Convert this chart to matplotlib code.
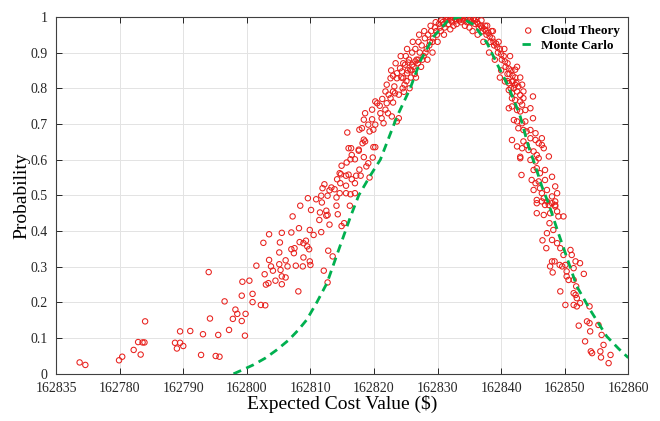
import numpy as np
import matplotlib
matplotlib.use('Agg')
import matplotlib.pyplot as plt

plt.rcParams['font.family'] = ['Liberation Serif', 'DejaVu Serif']

# Cloud Theory scatter (expected cost, probability)
left_x = [162773.7, 162774.6, 162779.9, 162780.4, 162782.2, 162782.9, 162783.6, 162783.9,
          162783.3, 162784.0, 162788.7, 162789.5, 162789.0, 162790.0, 162789.5, 162791.1,
          162793.1, 162792.8, 162794.0, 162794.2, 162795.1, 162795.7, 162795.5, 162796.5,
          162797.2, 162797.8, 162798.2, 162798.5, 162799.2, 162799.7, 162799.8, 162799.2,
          162799.3, 162800.4, 162800.9, 162800.9, 162801.5]
left_y = [0.032, 0.025, 0.038, 0.048, 0.067, 0.089, 0.088, 0.088,
          0.054, 0.147, 0.087, 0.087, 0.071, 0.078, 0.119, 0.120,
          0.111, 0.053, 0.285, 0.155, 0.050, 0.048, 0.109, 0.203,
          0.123, 0.154, 0.180, 0.168, 0.148, 0.107, 0.168, 0.219,
          0.258, 0.261, 0.224, 0.201, 0.303]

mid_x = [162802.2, 162802.9, 162802.8, 162803.0, 162803.4, 162802.6, 162803.5, 162803.5,
         162803.8, 162804.1, 162804.5, 162805.1, 162805.2, 162805.5, 162805.1, 162805.3,
         162805.5, 162805.5, 162806.1, 162806.1, 162806.4, 162807.0, 162807.0, 162807.2,
         162807.5, 162807.7, 162807.4, 162808.1, 162808.2, 162808.4, 162808.3, 162808.9,
         162808.9, 162808.8, 162809.3, 162809.5, 162809.6, 162809.8, 162809.9, 162810.0,
         162809.9, 162810.1, 162810.5, 162810.9, 162811.5, 162811.4, 162811.7, 162811.8,
         162811.7, 162811.9, 162812.2, 162812.5, 162812.5, 162812.7, 162813.0, 162812.1,
         162812.8, 162813.5, 162812.7, 162813.0, 162813.3, 162813.8, 162812.7, 162814.1,
         162814.1, 162814.3, 162814.2, 162814.6, 162814.7, 162814.8, 162814.9, 162815.3,
         162815.6, 162815.6, 162814.6, 162814.9, 162815.6, 162816.0, 162816.2, 162816.3,
         162817.0, 162817.0, 162817.2, 162816.5, 162815.7, 162816.3, 162817.0, 162816.5,
         162817.6, 162817.7, 162817.9, 162818.4, 162818.8, 162819.1, 162819.3, 162819.8]
mid_y = [0.193, 0.192, 0.279, 0.250, 0.254, 0.367, 0.391, 0.319,
         0.301, 0.289, 0.261, 0.340, 0.368, 0.395, 0.307, 0.291,
         0.273, 0.251, 0.270, 0.318, 0.301, 0.396, 0.349, 0.441,
         0.352, 0.303, 0.338, 0.231, 0.408, 0.471, 0.369, 0.366,
         0.326, 0.301, 0.373, 0.357, 0.492, 0.349, 0.315, 0.305,
         0.403, 0.459, 0.389, 0.489, 0.452, 0.431, 0.397, 0.480,
         0.499, 0.520, 0.531, 0.457, 0.443, 0.445, 0.418, 0.289,
         0.345, 0.329, 0.256, 0.514, 0.522, 0.517, 0.499, 0.494,
         0.471, 0.447, 0.545, 0.506, 0.534, 0.559, 0.414, 0.422,
         0.527, 0.506, 0.562, 0.583, 0.555, 0.558, 0.471, 0.503,
         0.506, 0.534, 0.555, 0.545, 0.592, 0.601, 0.601, 0.613,
         0.625, 0.572, 0.555, 0.607, 0.581, 0.590, 0.550, 0.606]

upper_x = [162816.0, 162816.4, 162815.8, 162817.6, 162818.4, 162818.6, 162818.2, 162819.9,
           162820.2, 162817.7, 162818.1, 162818.6, 162818.4, 162819.1, 162819.3, 162819.7,
           162819.9, 162820.2, 162819.7, 162820.2, 162820.5, 162820.9, 162821.0, 162821.2,
           162821.5, 162821.8, 162822.0, 162822.6, 162822.3, 162821.8, 162823.0, 162823.2,
           162822.6, 162823.0, 162823.6, 162823.6, 162824.1, 162824.4, 162823.6, 162823.9,
           162822.8, 162823.3, 162823.9, 162824.9, 162825.4, 162826.0, 162826.5, 162827.0,
           162825.2, 162825.7, 162824.6]
upper_y = [0.632, 0.632, 0.676, 0.628, 0.656, 0.651, 0.646, 0.635,
           0.635, 0.684, 0.688, 0.730, 0.712, 0.698, 0.679, 0.713,
           0.684, 0.698, 0.740, 0.763, 0.758, 0.751, 0.730, 0.716,
           0.702, 0.740, 0.758, 0.772, 0.782, 0.791, 0.791, 0.805,
           0.828, 0.835, 0.828, 0.842, 0.856, 0.847, 0.707, 0.716,
           0.721, 0.786, 0.782, 0.866, 0.872, 0.866, 0.875, 0.880,
           0.842, 0.852, 0.828]

peak_x = [162824.3, 162824.6, 162824.8, 162825.0, 162825.3, 162825.5, 162825.8, 162826.0,
          162826.2, 162826.5, 162826.7, 162827.0, 162827.2, 162827.5, 162827.8, 162828.0,
          162828.3, 162828.5, 162828.8, 162829.0, 162829.3, 162829.6, 162829.9, 162830.2,
          162830.5, 162830.8, 162831.1, 162831.4, 162831.7, 162832.0, 162832.3, 162832.6,
          162832.9, 162833.2, 162833.5, 162833.8, 162834.1, 162834.4, 162834.7, 162835.0,
          162835.3, 162835.6, 162835.9, 162836.2, 162836.5, 162836.8, 162837.1, 162837.4,
          162837.7, 162838.0, 162838.3, 162838.6, 162838.9, 162839.2, 162839.5, 162839.8,
          162840.1, 162840.4, 162840.7, 162841.0, 162841.3, 162841.6, 162841.9, 162842.2,
          162824.5, 162825.1, 162825.9, 162826.4, 162826.9, 162827.6, 162828.1, 162828.7,
          162829.2, 162829.8, 162830.4, 162831.0, 162831.6, 162832.2, 162832.8, 162833.4,
          162834.0, 162834.6, 162835.2, 162835.8, 162836.4, 162837.0, 162837.6, 162838.2,
          162838.8, 162839.4, 162840.0, 162840.6, 162841.2, 162841.8, 162842.4,
          162842.2, 162839.8, 162841.0, 162838.5, 162837.5, 162841.5]
peak_y = [0.83, 0.87, 0.81, 0.89, 0.85, 0.88, 0.83, 0.90,
          0.86, 0.91, 0.88, 0.93, 0.90, 0.92, 0.89, 0.94,
          0.91, 0.95, 0.93, 0.96, 0.94, 0.97, 0.95, 0.98,
          0.96, 0.985, 0.97, 0.99, 0.98, 0.995, 0.985, 1.0,
          0.99, 1.0, 0.995, 1.0, 0.99, 1.0, 0.995, 0.99,
          0.985, 0.995, 0.98, 0.985, 0.97, 0.975, 0.96, 0.965,
          0.95, 0.955, 0.93, 0.94, 0.92, 0.925, 0.90, 0.91,
          0.88, 0.89, 0.86, 0.87, 0.84, 0.85, 0.82, 0.83,
          0.80, 0.82, 0.85, 0.84, 0.87, 0.88, 0.90, 0.92,
          0.93, 0.96, 0.97, 0.98, 0.995, 0.99, 0.995, 0.99,
          0.995, 0.985, 0.995, 0.99, 0.98, 0.97, 0.96, 0.945,
          0.93, 0.915, 0.895, 0.875, 0.855, 0.835, 0.815,
          0.852, 0.83, 0.84, 0.96, 0.975, 0.80]

# extra points that thicken the band around the peak
band_x = [162824.2, 162824.7, 162825.2, 162825.6, 162826.1, 162826.6, 162827.1, 162827.4,
          162827.9, 162828.4, 162828.9, 162829.2, 162829.7, 162830.0, 162830.6, 162831.0,
          162831.5, 162832.0, 162832.5, 162833.0, 162833.7, 162834.3, 162835.0, 162835.5,
          162836.0, 162836.3, 162836.9, 162837.2, 162837.8, 162838.1, 162838.7, 162839.0,
          162839.6, 162840.0, 162840.5, 162841.0, 162841.4, 162842.0, 162842.5, 162843.0,
          162823.4, 162822.7, 162822.0, 162821.3, 162823.0, 162822.2]
band_y = [0.89, 0.79, 0.91, 0.80, 0.93, 0.83, 0.95, 0.86,
          0.96, 0.88, 0.975, 0.90, 0.985, 0.93, 0.99, 0.95,
          1.0, 0.965, 0.975, 0.98, 0.985, 0.975, 0.97, 0.96,
          0.995, 0.95, 0.99, 0.93, 0.975, 0.90, 0.96, 0.88,
          0.93, 0.85, 0.91, 0.82, 0.89, 0.80, 0.86, 0.83,
          0.87, 0.85, 0.81, 0.77, 0.76, 0.73]

right_x = [162840.6, 162841.2, 162841.7, 162842.2, 162842.7, 162843.3, 162841.2, 162841.7,
           162842.5, 162843.0, 162843.5, 162841.7, 162842.2, 162843.0, 162843.3, 162843.5,
           162841.2, 162841.7, 162842.5, 162843.0, 162843.8, 162844.6, 162845.0, 162842.0,
           162842.5, 162843.3, 162843.8, 162845.0, 162842.7, 162843.5, 162844.0, 162844.6,
           162845.4, 162841.7, 162842.5, 162843.5, 162844.0, 162844.6, 162845.4, 162845.9,
           162846.4, 162846.4, 162843.3, 162844.3, 162845.1, 162845.6, 162846.7, 162843.0,
           162844.6, 162845.4, 162845.9, 162847.5, 162843.2, 162845.1, 162845.6, 162846.1,
           162846.9, 162844.8, 162845.4, 162845.9, 162846.9, 162848.0, 162845.1, 162846.1,
           162846.4, 162847.2, 162848.5, 162848.8, 162845.6, 162846.7, 162847.2, 162848.0,
           162848.5, 162847.5, 162843.0]
right_y = [0.819, 0.814, 0.819, 0.810, 0.805, 0.810, 0.795, 0.786,
           0.791, 0.781, 0.791, 0.772, 0.767, 0.763, 0.754, 0.772,
           0.744, 0.749, 0.739, 0.735, 0.739, 0.744, 0.777, 0.711,
           0.707, 0.702, 0.707, 0.716, 0.688, 0.683, 0.679, 0.683,
           0.674, 0.655, 0.637, 0.651, 0.641, 0.660, 0.655, 0.646,
           0.660, 0.641, 0.632, 0.627, 0.623, 0.613, 0.632, 0.604,
           0.599, 0.595, 0.604, 0.609, 0.557, 0.571, 0.576, 0.562,
           0.571, 0.543, 0.534, 0.539, 0.543, 0.552, 0.515, 0.520,
           0.506, 0.515, 0.525, 0.506, 0.487, 0.492, 0.483, 0.497,
           0.473, 0.473, 0.608]

tail_x = [162845.6, 162846.4, 162846.9, 162848.0, 162848.5, 162845.6, 162846.7, 162847.7,
          162848.5, 162848.8, 162849.0, 162849.8, 162847.6, 162848.2, 162847.2, 162846.5,
          162848.0, 162848.8, 162847.1, 162849.3, 162850.9, 162849.8, 162851.1, 162848.0,
          162848.4, 162849.2, 162849.6, 162850.1, 162851.7, 162852.4, 162847.7, 162848.1,
          162850.3, 162851.4, 162850.3, 162850.6, 162851.4, 162853.0, 162851.8, 162849.3,
          162851.4, 162851.7, 162851.9, 162850.1, 162851.4, 162851.9, 162852.4, 162853.9,
          162853.5, 162853.9, 162852.2, 162855.3, 162854.0, 162855.8, 162853.2, 162856.1,
          162854.1, 162854.3, 162855.6, 162857.2, 162855.7, 162856.9]
tail_y = [0.478, 0.483, 0.473, 0.478, 0.483, 0.450, 0.445, 0.450,
          0.469, 0.455, 0.441, 0.441, 0.422, 0.403, 0.394, 0.374,
          0.375, 0.366, 0.352, 0.352, 0.347, 0.333, 0.333, 0.315,
          0.315, 0.305, 0.301, 0.305, 0.315, 0.310, 0.301, 0.284,
          0.287, 0.296, 0.273, 0.263, 0.263, 0.280, 0.245, 0.231,
          0.226, 0.221, 0.212, 0.193, 0.193, 0.189, 0.198, 0.189,
          0.147, 0.142, 0.135, 0.137, 0.119, 0.109, 0.091, 0.081,
          0.063, 0.058, 0.063, 0.053, 0.046, 0.030]

cloud_x = left_x + mid_x + upper_x + peak_x + band_x + right_x + tail_x
cloud_y = left_y + mid_y + upper_y + peak_y + band_y + right_y + tail_y

# Monte Carlo curve
mc_x = [162797.9, 162799.3, 162801.0, 162802.9, 162804.7, 162806.6, 162808.1, 162809.4,
        162811.0, 162812.6, 162814.7, 162816.3, 162817.6, 162819.4, 162821.0, 162823.6,
        162825.7, 162827.3, 162829.4, 162831.5, 162833.4, 162835.7, 162837.8, 162839.3,
        162840.9, 162842.0, 162843.0, 162844.3, 162845.4, 162846.4, 162847.5, 162849.0,
        162850.1, 162851.9, 162854.0, 162856.6, 162858.5, 162860.0]
mc_y = [0.0, 0.011, 0.025, 0.044, 0.067, 0.095, 0.123, 0.151,
        0.200, 0.254, 0.360, 0.440, 0.500, 0.555, 0.600, 0.720,
        0.800, 0.877, 0.945, 0.987, 1.0, 0.978, 0.926, 0.870,
        0.814, 0.767, 0.721, 0.637, 0.581, 0.525, 0.475, 0.394,
        0.338, 0.245, 0.179, 0.105, 0.070, 0.045]

xticks = [162770, 162780, 162790, 162800, 162810, 162820, 162830, 162840, 162850, 162860]
xticklabels = ['162835', '162780', '162790', '162800', '162810', '162820',
               '162830', '162840', '162850', '162860']
yticks = [0, 0.1, 0.2, 0.3, 0.4, 0.5, 0.6, 0.7, 0.8, 0.9, 1]
yticklabels = ['0', '0.1', '0.2', '0.3', '0.4', '0.5', '0.6', '0.7', '0.8', '0.9', '1']

fig = plt.figure(figsize=(6.6, 4.21), dpi=100)
ax = fig.add_axes([0.085, 0.112, 0.867, 0.848])

ax.scatter(cloud_x, cloud_y, s=15, facecolors='none', edgecolors='#e8201c',
           linewidths=0.75, label='Cloud Theory', zorder=3)
ax.plot(mc_x, mc_y, color='#00b04f', lw=2.0, ls=(0, (3, 2)), label='Monte Carlo', zorder=4)

ax.set_xlim(162770, 162860)
ax.set_ylim(0, 1)
ax.set_xticks(xticks)
ax.set_xticklabels(xticklabels)
ax.set_yticks(yticks)
ax.set_yticklabels(yticklabels)
ax.tick_params(direction='in', length=4, width=0.7, top=True, right=True,
               labelsize=10, colors='#262626')
ax.tick_params(axis='x', pad=6)
ax.tick_params(axis='y', pad=6)
ax.grid(True, color='#e3e3e3', lw=0.7)
ax.set_axisbelow(True)
for s in ax.spines.values():
    s.set_color('#404040')
    s.set_linewidth(0.8)

ax.set_xlabel('Expected Cost Value ($)', fontsize=14, labelpad=0)
ax.set_ylabel('Probability', fontsize=14, labelpad=0)

leg = ax.legend(loc='upper right', frameon=False, handlelength=1.0, handletextpad=0.5,
                borderaxespad=0.2, labelspacing=0.2,
                prop={'family': 'Liberation Serif', 'weight': 'bold', 'size': 9.5})

fig.savefig('out.png', dpi=100)
